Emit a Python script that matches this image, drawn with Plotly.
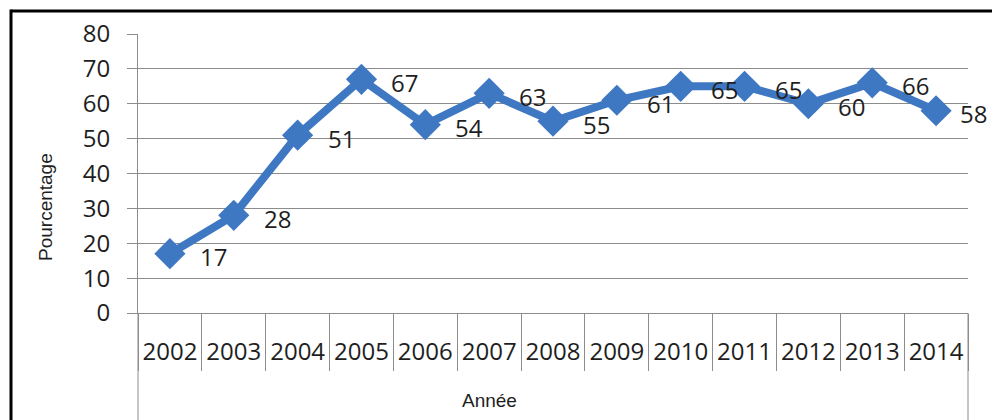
import plotly.graph_objects as go

years = ["2002", "2003", "2004", "2005", "2006", "2007", "2008",
         "2009", "2010", "2011", "2012", "2013", "2014"]
pct = [17, 28, 51, 67, 54, 63, 55, 61, 65, 65, 60, 66, 58]
y_ticks = [0, 10, 20, 30, 40, 50, 60, 70, 80]
y_title = "Pourcentage"
x_title = "Année"

W, H = 992, 420
ml, mr, mt, mb = 138, 24, 34, 107
pw = W - ml - mr
ph = H - mt - mb

blue = "#3F78C2"
grid = "#8C8C8C"
num_font = dict(family="Open Sans", size=24, color="#1e1e1e")
title_font = dict(family="Liberation Sans", size=19, color="#1e1e1e")

fig = go.Figure()
fig.add_trace(go.Scatter(
    x=years, y=pct, mode="lines+markers",
    line=dict(color=blue, width=8),
    marker=dict(symbol="diamond", size=24, color=blue),
    cliponaxis=False, hoverinfo="skip",
))

for i, y in enumerate(pct):
    fig.add_annotation(
        x=i, y=y, xref="x", yref="y", text=str(y), showarrow=False,
        xanchor="left", yanchor="middle",
        xshift=22 if i == len(pct) - 1 else 28, yshift=-3,
        font=num_font,
    )

fig.add_annotation(
    text=y_title, textangle=-90, showarrow=False,
    xref="paper", yref="paper",
    x=(45 - ml) / pw, y=(313 - 207) / ph,
    xanchor="center", yanchor="middle", font=title_font,
)
fig.add_annotation(
    text=x_title, showarrow=False,
    xref="paper", yref="paper",
    x=(489 - ml) / pw, y=(mt + ph - 401) / ph,
    xanchor="center", yanchor="middle", font=title_font,
)

shapes = [
    dict(type="line", xref="x domain", yref="paper", x0=0, x1=0,
         y0=0, y1=-mb / ph - 0.05, line=dict(color=grid, width=1)),
    dict(type="line", xref="x domain", yref="paper", x0=1, x1=1,
         y0=0, y1=-mb / ph - 0.05, line=dict(color=grid, width=1)),
    dict(type="line", xref="paper", yref="paper",
         x0=(11 - ml) / pw, x1=(W + 10 - ml) / pw,
         y0=1 + (mt - 11) / ph, y1=1 + (mt - 11) / ph,
         line=dict(color="black", width=3)),
    dict(type="line", xref="paper", yref="paper",
         x0=(11 - ml) / pw, x1=(11 - ml) / pw,
         y0=1 + (mt - 11) / ph + 0.005, y1=-mb / ph - 0.05,
         line=dict(color="black", width=3)),
]

fig.update_layout(
    width=W, height=H,
    margin=dict(l=ml, r=mr, t=mt, b=mb, pad=0),
    paper_bgcolor="white", plot_bgcolor="white",
    showlegend=False,
    shapes=shapes,
    xaxis=dict(
        type="category", tickson="boundaries", tickangle=0,
        ticks="outside", ticklen=57, tickcolor=grid, tickwidth=1,
        showline=True, linecolor=grid, linewidth=1,
        showgrid=False, zeroline=False,
        tickfont=num_font, ticklabelstandoff=17,
        range=[-0.5, len(years) - 0.5],
    ),
    yaxis=dict(
        range=[0, 80], tickmode="array", tickvals=y_ticks,
        ticks="outside", ticklen=10, tickcolor=grid, tickwidth=1,
        showline=True, linecolor=grid, linewidth=1,
        showgrid=True, gridcolor=grid, gridwidth=1,
        zeroline=False, tickfont=num_font, ticklabelstandoff=12,
    ),
)

fig.write_html("out.html")
